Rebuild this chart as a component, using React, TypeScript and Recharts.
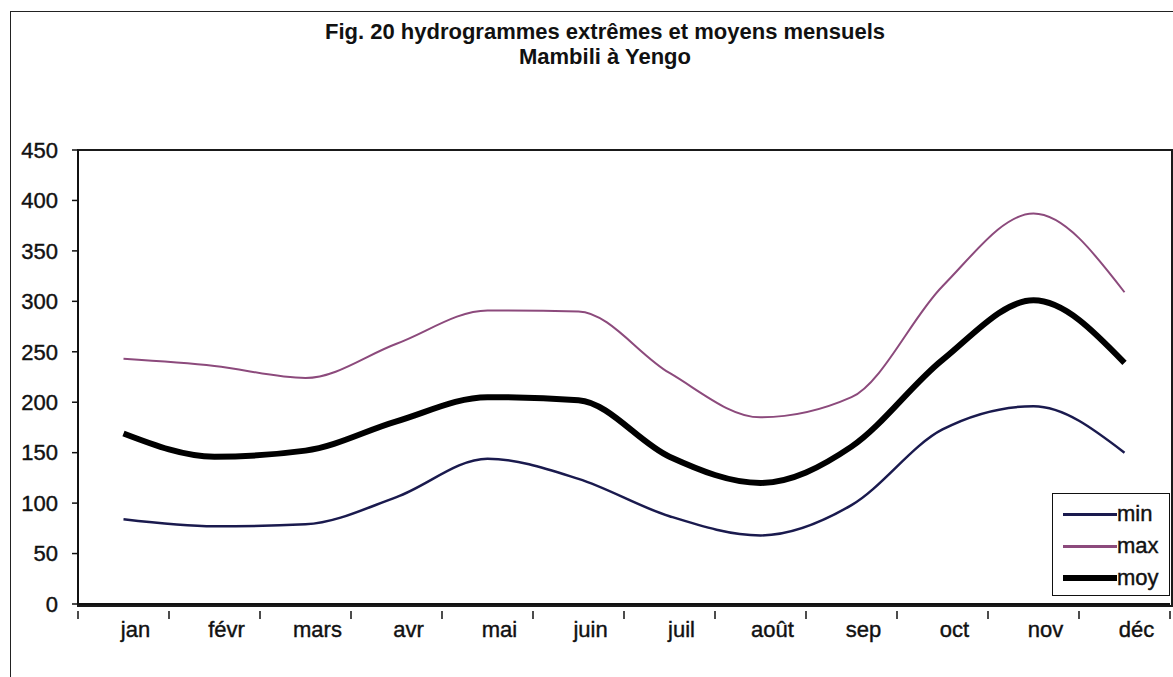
import React from 'react';
import { LineChart, Line, XAxis, YAxis } from 'recharts';

const MONTHS = ['jan', 'févr', 'mars', 'avr', 'mai', 'juin', 'juil', 'août', 'sep', 'oct', 'nov', 'déc'];
const MIN_VALUES = [84, 77, 79, 106, 144, 124, 87, 68, 98, 173, 196, 150];
const MAX_VALUES = [243, 236, 224, 258, 291, 290, 229, 185, 205, 315, 387, 309];
const MOY_VALUES = [169, 146, 152, 181, 205, 202, 146, 120, 156, 242, 301, 239];
const Y_TICKS = [0, 50, 100, 150, 200, 250, 300, 350, 400, 450];

const DATA = MONTHS.map((m, i) => ({
  month: m,
  min: MIN_VALUES[i],
  max: MAX_VALUES[i],
  moy: MOY_VALUES[i],
}));

const W = 1173;
const H = 677;
const PLOT_LEFT = 78;
const PLOT_RIGHT = 1170;
const PLOT_TOP = 150;
const PLOT_BOTTOM = 604;
const Y_AXIS_W = 60;
const X_AXIS_H = 40;
const BAND = (PLOT_RIGHT - PLOT_LEFT) / MONTHS.length;
const FONT = 'Liberation Sans, Arial, sans-serif';

const SERIES = [
  { key: 'min', color: '#1a1a4e', width: 2.5, legendW: 3 },
  { key: 'max', color: '#8c4a7c', width: 2, legendW: 3 },
  { key: 'moy', color: '#000', width: 6, legendW: 6 },
];

// excel-style ticks: marks sit on the category boundaries, labels in the middle
const MonthTick = (props: any) => {
  const { x, y, payload, index } = props;
  const left = x - BAND / 2;
  return (
    <g>
      <line x1={left} y1={y - 1} x2={left} y2={y + 7} stroke="#111" strokeWidth={1.5} />
      {index === MONTHS.length - 1 && (
        <line x1={left + BAND} y1={y - 1} x2={left + BAND} y2={y + 7} stroke="#111" strokeWidth={1.5} />
      )}
      <text
        x={x + 12}
        y={y + 25}
        textAnchor="middle"
        fill="#111"
        stroke="#111"
        strokeWidth={0.4}
        fontSize={22}
        fontFamily={FONT}
      >
        {payload.value}
      </text>
    </g>
  );
};

export default function App() {
  return (
    <div style={{ position: 'absolute', left: 0, top: 0, width: W, height: H, background: '#fff', overflow: 'hidden' }}>
      <div
        style={{
          position: 'absolute',
          left: 10,
          top: 11,
          width: W - 10,
          height: H - 11,
          borderLeft: '1.5px solid #222',
          borderTop: '1.5px solid #222',
        }}
      />
      <div
        style={{
          position: 'absolute',
          left: 0,
          top: 19,
          width: 1210,
          textAlign: 'center',
          fontFamily: FONT,
          fontWeight: 'bold',
          fontSize: 22,
          lineHeight: '25px',
          color: '#111',
        }}
      >
        <div>Fig. 20 hydrogrammes extrêmes et moyens mensuels</div>
        <div>Mambili à Yengo</div>
      </div>
      {/* plot frame */}
      <div
        style={{
          position: 'absolute',
          left: PLOT_LEFT - 1,
          top: PLOT_TOP - 1,
          width: PLOT_RIGHT - PLOT_LEFT,
          height: PLOT_BOTTOM - PLOT_TOP,
          border: '2px solid #1a1a1a',
        }}
      />
      <div style={{ position: 'absolute', left: 0, top: 0 }}>
        <LineChart
          width={W}
          height={H}
          data={DATA}
          margin={{
            top: PLOT_TOP,
            left: PLOT_LEFT - Y_AXIS_W,
            right: W - PLOT_RIGHT,
            bottom: H - PLOT_BOTTOM - X_AXIS_H,
          }}
        >
          <XAxis
            dataKey="month"
            height={X_AXIS_H}
            padding={{ left: BAND / 2, right: BAND / 2 }}
            axisLine={{ stroke: '#111', strokeWidth: 2 }}
            tickLine={false}
            interval={0}
            tick={<MonthTick />}
          />
          <YAxis
            domain={[0, 450]}
            ticks={Y_TICKS}
            width={Y_AXIS_W}
            axisLine={{ stroke: '#111', strokeWidth: 2 }}
            tickLine={{ stroke: '#111', strokeWidth: 1.5 }}
            tickSize={6}
            tickMargin={14}
            tick={{ fontSize: 22, fill: '#111', stroke: '#111', strokeWidth: 0.4, fontFamily: FONT }}
          />
          {SERIES.map((s) => (
            <Line
              key={s.key}
              type="monotone"
              dataKey={s.key}
              stroke={s.color}
              strokeWidth={s.width}
              dot={false}
              isAnimationActive={false}
            />
          ))}
        </LineChart>
      </div>
      {/* legend */}
      <div
        style={{
          position: 'absolute',
          left: 1052,
          top: 493,
          width: 118,
          height: 103,
          border: '1.5px solid #111',
          background: '#fff',
          padding: '4px 0 0 10px',
          boxSizing: 'border-box',
        }}
      >
        {SERIES.map((s) => (
          <div key={s.key} style={{ display: 'flex', alignItems: 'center', height: 32 }}>
            <div style={{ width: 54, height: s.legendW, background: s.color }} />
            <span style={{ fontSize: 22, fontFamily: FONT, color: '#111', lineHeight: '22px', WebkitTextStroke: '0.4px #111' }}>
              {s.key}
            </span>
          </div>
        ))}
      </div>
    </div>
  );
}
